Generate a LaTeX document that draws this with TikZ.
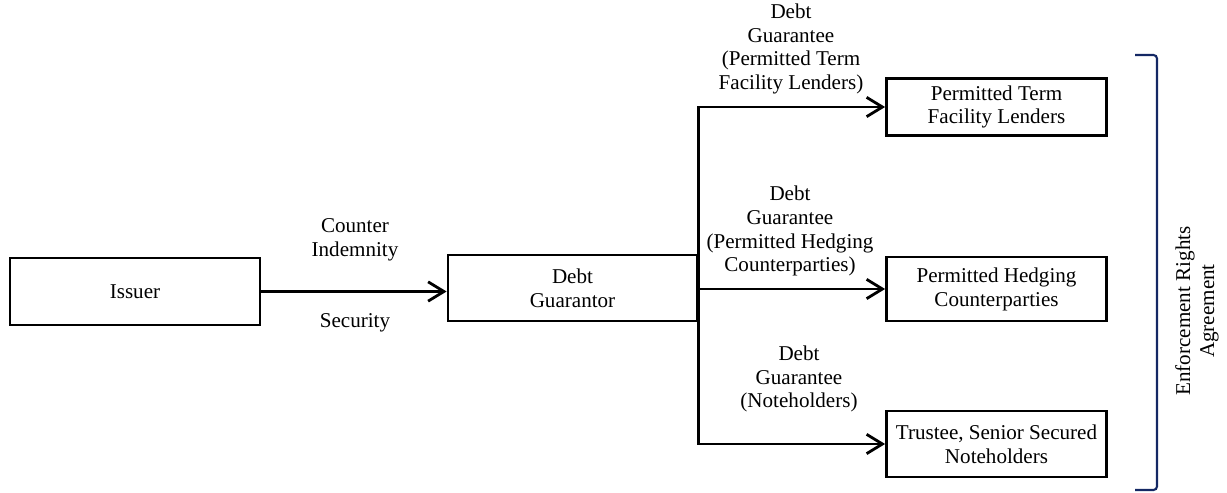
\documentclass[tikz,border=0pt]{standalone}
\usepackage{fontspec}
\setmainfont{Liberation Serif}
\usetikzlibrary{arrows.meta}
\definecolor{bracketblue}{RGB}{20,40,100}

\tikzset{
  box/.style={draw, line width=1.6pt, align=center, inner sep=0pt},
  lbl/.style={align=center, inner sep=0pt, font=\fontsize{12}{13.6}\selectfont},
  flow/.style={line width=1.6pt, -{Straight Barb[length=9pt,width=11pt,line width=1.6pt]}}
}

\begin{document}
\begin{tikzpicture}[x=0.02cm,y=-0.02cm,font=\fontsize{12}{13.6}\selectfont]
\useasboundingbox (0,0) rectangle (1227,493);

% parties
\node[box, minimum width=5cm, minimum height=1.34cm] (issuer) at (135,291.5) {Issuer};
\node[box, minimum width=4.98cm, minimum height=1.32cm] (guarantor) at (572.5,288) {Debt\\Guarantor};
\node[box, minimum width=4.4cm, minimum height=1.14cm] (term) at (996.5,107) {Permitted Term\\Facility Lenders};
\node[box, minimum width=4.4cm, minimum height=1.28cm] (hedge) at (996.5,289) {Permitted Hedging\\Counterparties};
\node[box, minimum width=4.4cm, minimum height=1.32cm] (notes) at (996.5,444) {Trustee, Senior Secured\\Noteholders};

% issuer to guarantor
\draw[flow] (issuer.east) -- (issuer.east -| guarantor.west);
\node[lbl] (counter) at (355,240) {Counter\\Indemnity};
\node[lbl] (security) at (355,323) {Security};

% guarantees
\coordinate (top) at (guarantor.east |- term.west);
\coordinate (bot) at (guarantor.east |- notes.west);
\draw[line width=1.6pt, line cap=rect] (top) -- (bot);
\foreach \n in {term,hedge,notes}{
  \draw[flow] (guarantor.east |- \n.west) -- (\n.west);
}
\node[lbl] (gterm) at (791,49) {Debt\\Guarantee\\(Permitted Term\\Facility Lenders)};
\node[lbl] (ghedge) at (790,231) {Debt\\Guarantee\\(Permitted Hedging\\Counterparties)};
\node[lbl] (gnotes) at (799,379) {Debt\\Guarantee\\(Noteholders)};

% enforcement rights bracket
\draw[bracketblue, line width=1.2pt, rounded corners=2pt] (1135,55) -- (1157,55) -- (1157,490) -- (1135,490);
\node[lbl, rotate=90] (era) at (1197,311) {Enforcement Rights\\Agreement};
\end{tikzpicture}
\end{document}
